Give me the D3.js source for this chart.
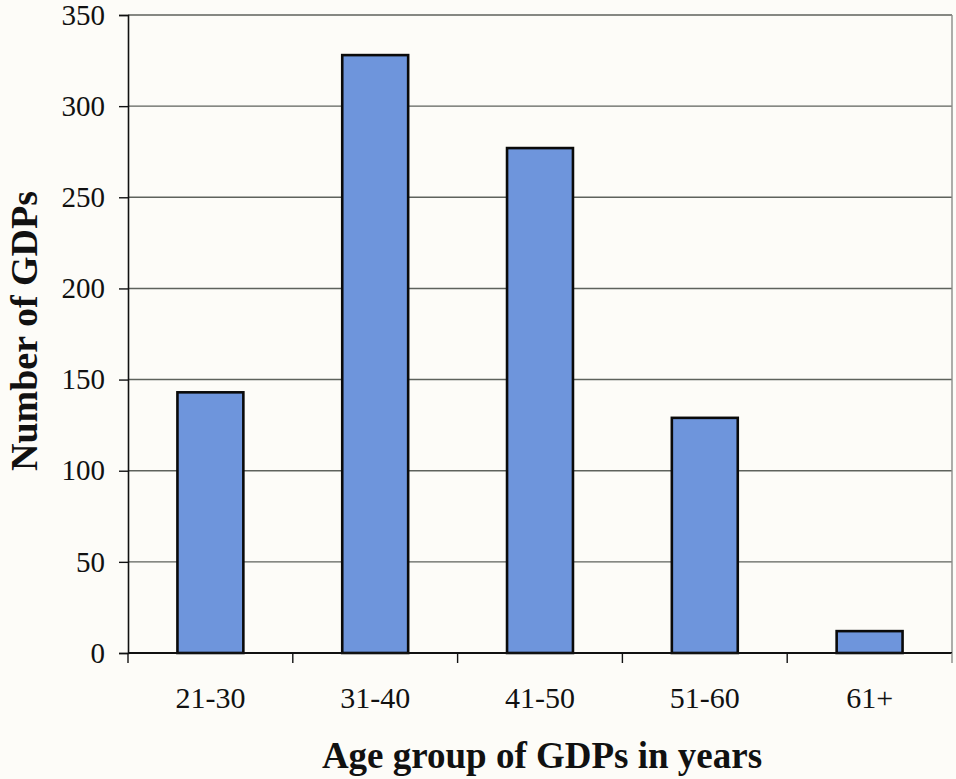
<!DOCTYPE html>
<html>
<head>
<meta charset="utf-8">
<script src="https://cdn.jsdelivr.net/npm/d3@7"></script>
<style>
  html, body { margin: 0; padding: 0; background: #fdfcf8; }
  svg { display: block; }
  text { font-family: "Liberation Serif", "Times New Roman", serif; fill: #111; }
</style>
</head>
<body>
<svg id="chart" width="956" height="779"></svg>
<script>
// Age groups and number of GDPs in each
const categories = ["21-30", "31-40", "41-50", "51-60", "61+"];
const counts = [143, 328, 277, 129, 12];
const yTicks = [0, 50, 100, 150, 200, 250, 300, 350];
const xTitle = "Age group of GDPs in years";
const yTitle = "Number of GDPs";

const W = 956, H = 779;
const plot = { left: 128, right: 952, top: 15, bottom: 653 };

const svg = d3.select("#chart");

const x = d3.scaleBand()
  .domain(categories)
  .range([plot.left, plot.right])
  .paddingInner(0.6)
  .paddingOuter(0.3);

const y = d3.scaleLinear()
  .domain([0, 350])
  .range([plot.bottom, plot.top]);

// horizontal gridlines
svg.append("g")
  .selectAll("line")
  .data(yTicks.filter(d => d > 0))
  .join("line")
  .attr("x1", plot.left)
  .attr("x2", plot.right)
  .attr("y1", d => y(d))
  .attr("y2", d => y(d))
  .attr("stroke", "#5e625c")
  .attr("stroke-width", 1.4);

// right border of the plot area
svg.append("line")
  .attr("x1", plot.right).attr("x2", plot.right)
  .attr("y1", y(350)).attr("y2", plot.bottom)
  .attr("stroke", "#8a8c88")
  .attr("stroke-width", 1.4);

// bars
svg.append("g")
  .selectAll("rect")
  .data(categories.map((c, i) => ({ c, v: counts[i] })))
  .join("rect")
  .attr("x", d => x(d.c))
  .attr("y", d => y(d.v))
  .attr("width", x.bandwidth())
  .attr("height", d => y(0) - y(d.v))
  .attr("fill", "#6e95dc")
  .attr("stroke", "#0a0a0a")
  .attr("stroke-width", 2.6);

// y axis
const yAxis = d3.axisLeft(y)
  .tickValues(yTicks)
  .tickSize(9)
  .tickPadding(14)
  .tickFormat(d3.format("d"));

const gy = svg.append("g")
  .attr("transform", `translate(${plot.left},0)`)
  .call(yAxis);
gy.select(".domain").attr("stroke", "#111").attr("stroke-width", 1.6);
gy.selectAll(".tick line").attr("stroke", "#111").attr("stroke-width", 1.4);
gy.selectAll(".tick text")
  .attr("font-size", 29)
  .style("font-family", "'Liberation Serif', 'Times New Roman', serif")
  .attr("fill", "#111");

// x axis: ticks sit on the category boundaries
const step = x.step();
const boundaries = d3.range(categories.length + 1).map(i => plot.left + i * (plot.right - plot.left) / categories.length);

const gx = svg.append("g");
gx.append("line")
  .attr("x1", plot.left).attr("x2", plot.right)
  .attr("y1", y(0)).attr("y2", y(0))
  .attr("stroke", "#111")
  .attr("stroke-width", 2);
gx.selectAll("line.tick")
  .data(boundaries)
  .join("line")
  .attr("class", "tick")
  .attr("x1", d => d).attr("x2", d => d)
  .attr("y1", y(0)).attr("y2", y(0) + 10)
  .attr("stroke", (d, i) => i === boundaries.length - 1 ? "#8a8c88" : "#111")
  .attr("stroke-width", 1.4);
gx.selectAll("text")
  .data(categories)
  .join("text")
  .attr("x", d => x(d) + x.bandwidth() / 2)
  .attr("y", y(0) + 55)
  .attr("text-anchor", "middle")
  .attr("font-size", 30)
  .text(d => d);

// axis titles
svg.append("text")
  .attr("x", (plot.left + plot.right) / 2 + 2)
  .attr("y", 768)
  .attr("text-anchor", "middle")
  .attr("font-size", 37)
  .attr("font-weight", "bold")
  .text(xTitle);

svg.append("text")
  .attr("transform", `translate(37,${(plot.top + plot.bottom) / 2 - 3}) rotate(-90)`)
  .attr("text-anchor", "middle")
  .attr("font-size", 38)
  .attr("font-weight", "bold")
  .text(yTitle);
</script>
</body>
</html>
